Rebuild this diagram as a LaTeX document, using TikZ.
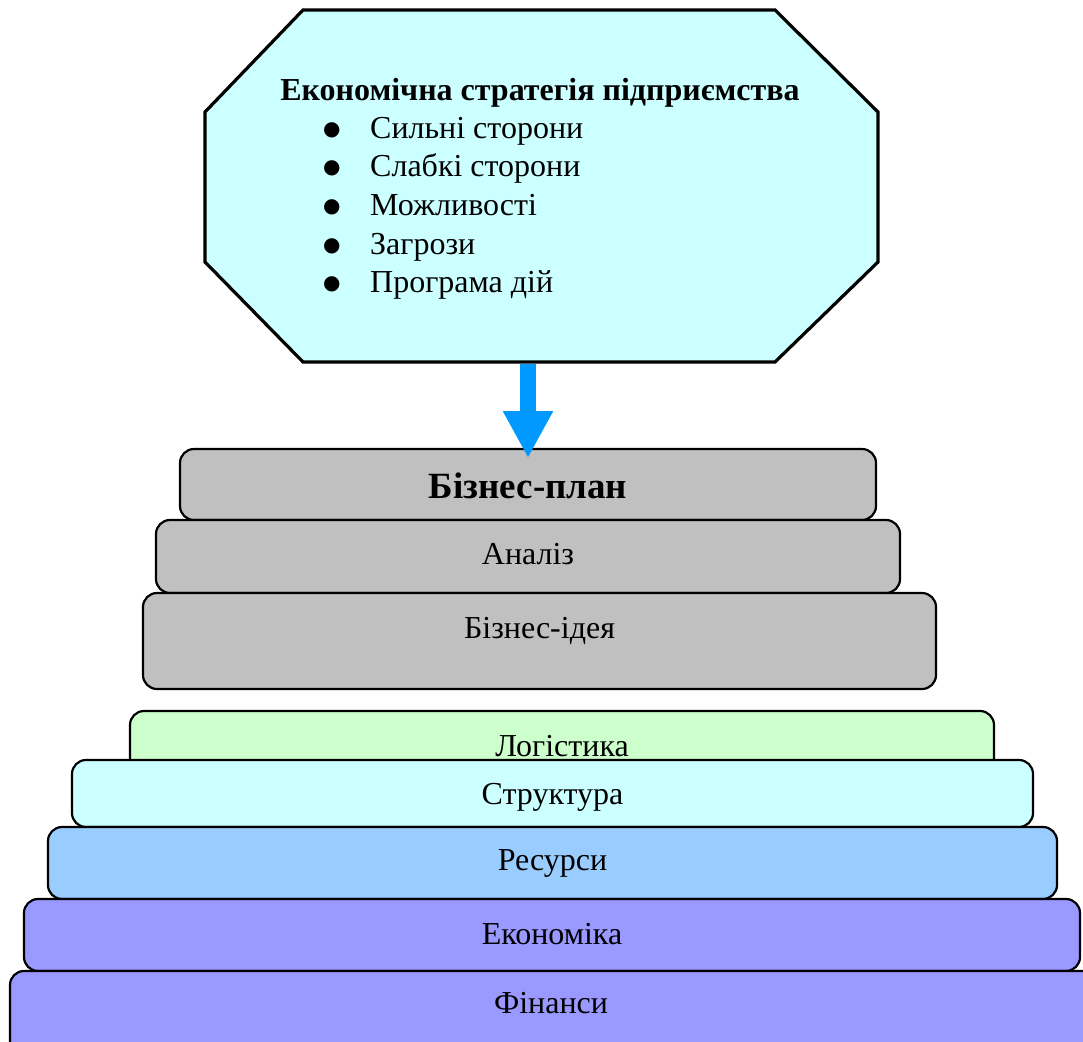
\documentclass[tikz,border=0pt]{standalone}
\usepackage{fontspec}
\setmainfont{Liberation Serif}
\newfontfamily\symfont{DejaVu Sans}
\usetikzlibrary{arrows.meta, positioning}
\definecolor{stratbg}{HTML}{CCFFFF}
\definecolor{plangrey}{HTML}{C0C0C0}
\definecolor{logist}{HTML}{CCFFCC}
\definecolor{struct}{HTML}{CCFFFF}
\definecolor{resour}{HTML}{99CCFF}
\definecolor{econ}{HTML}{9999FF}
\definecolor{arrowblue}{HTML}{0099FF}
\newcommand{\bigbullet}{\raisebox{3pt}{\symfont\fontsize{20}{24}\selectfont ●}}

\begin{document}
\begin{tikzpicture}[
  x=1pt, y=-1pt,
  font=\fontsize{32}{38}\selectfont,
  octa/.style={draw=black, line width=3.2pt, fill=stratbg, line join=miter},
  tier/.style={rectangle, rounded corners=14pt, draw=black, line width=2.2pt,
               anchor=north west, inner sep=0pt, outer sep=0pt,
               text height=22pt, text depth=7pt},
  item/.style={anchor=base west, inner sep=0pt},
  lbl/.style={anchor=base, inner sep=0pt},
  bigarr/.style={-{Triangle[width=47pt, length=47pt]}, line width=16pt, arrowblue}
]
  \useasboundingbox (0,0) rectangle (1083,1041);
  \clip (0,0) rectangle (1083,1041);

  % strategy octagon
  \draw[octa] (303,10) -- (775,10) -- (878,112) -- (878,262) -- (775,362)
    -- (303,362) -- (205,262) -- (205,112) -- cycle;
  \coordinate (octbot) at (528,362);
  \node[lbl, font=\bfseries\fontsize{32}{38}\selectfont] (strat) at (540,100)
    {Економічна стратегія підприємства};
  \foreach \t [count=\i] in {Сильні сторони, Слабкі сторони, Можливості, Загрози, Програма дій}
    \node[item] (pt\i) at (323, {138+38.7*(\i-1)}) {\makebox[47pt][l]{\bigbullet}\t};

  % upper stack
  \node[tier, fill=plangrey, minimum width=696pt, minimum height=71pt, text height=34pt] (plan) at (180,449)
    {\bfseries\fontsize{37}{44}\selectfont Бізнес-план};
  \node[tier, fill=plangrey, minimum width=744pt, minimum height=73pt] (anal) at (156,520) {Аналіз};
  \node[tier, fill=plangrey, minimum width=793pt, minimum height=96pt] (idea) at (143,593) {};
  \node[lbl] (ideatxt) at ([yshift=-45pt]idea.north) {Бізнес-ідея};

  \draw[bigarr, shorten <=1.6pt] (octbot) -- ([yshift=-9pt]plan.north);

  % lower stack
  \node[tier, fill=logist, minimum width=864pt, minimum height=75pt] (logi) at (130,711) {Логістика};
  \node[tier, fill=struct, minimum width=961pt, minimum height=67pt, text height=28pt] (stru) at (72,760) {Структура};
  \node[tier, fill=resour, minimum width=1009pt, minimum height=72pt] (reso) at (48,827) {Ресурси};
  \node[tier, fill=econ, minimum width=1056pt, minimum height=72pt, text height=26pt] (econ) at (24,899) {Економіка};
  \node[tier, fill=econ, minimum width=1100pt, minimum height=100pt] (fin) at (10,971) {};
  \node[lbl] (fintxt) at (551,1013) {Фінанси};
\end{tikzpicture}
\end{document}
